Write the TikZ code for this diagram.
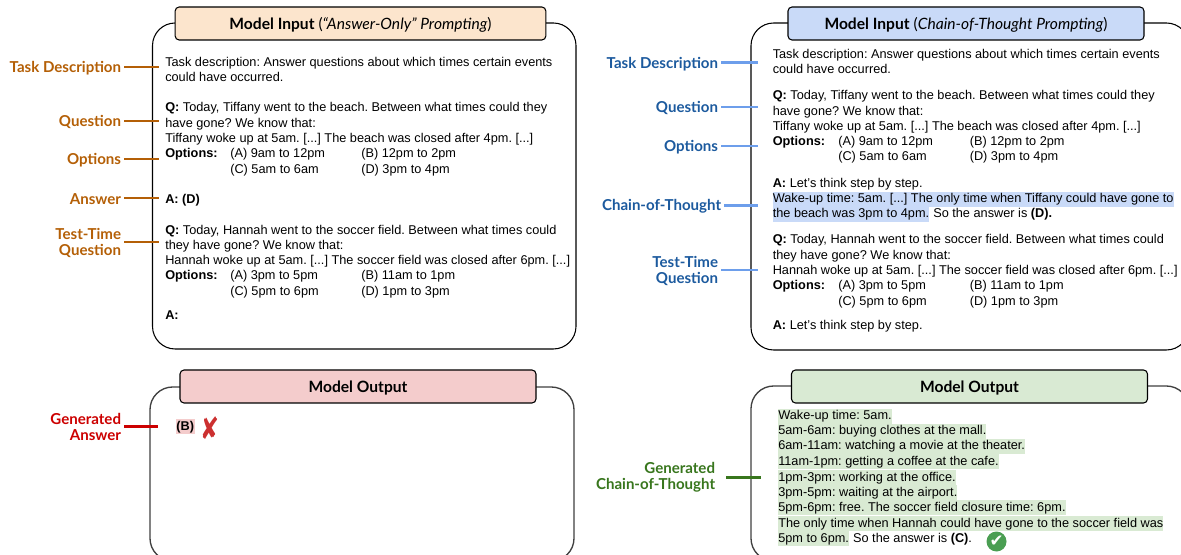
\documentclass[tikz,border=0pt]{standalone}
\usepackage{graphicx}
\usepackage{fontspec}
\setmainfont{Liberation Sans}
\newfontfamily\labelfont{Lato}
\newfontfamily\symbolfont{DejaVu Sans}
\definecolor{PeachFill}{HTML}{FCE5CD}
\definecolor{BlueFill}{HTML}{C9DAF8}
\definecolor{RedFill}{HTML}{F4CCCC}
\definecolor{GreenFill}{HTML}{D9EAD3}
\definecolor{OrangeMain}{HTML}{B45F06}
\definecolor{BlueMain}{HTML}{1C5A9E}
\definecolor{BlueLine}{HTML}{6D9EEB}
\definecolor{RedMain}{HTML}{CC0000}
\definecolor{GreenMain}{HTML}{38761D}
\definecolor{CheckGreen}{HTML}{4A9E52}
\definecolor{CrossRed}{HTML}{CC3030}
\frenchspacing
\begin{document}
\begin{tikzpicture}[x=0.75pt, y=-0.75pt,
        frame/.style={draw=black, line width=0.8pt, fill=white, rounded corners=17pt},
        outframe/.style={draw=black!75, line width=1pt, fill=white, rounded corners=17pt},
        header/.style={draw=black, line width=0.8pt, rounded corners=3pt, minimum height=24.75pt, inner sep=0pt, text height=9pt, text depth=0pt, font=\labelfont\fontsize{11.7}{13}\selectfont},
        txt/.style={anchor=base west, inner sep=0pt, font=\fontsize{9.55}{11}\selectfont},
        hilite/.style={txt, text height=8.6pt, text depth=2.9pt},
        side/.style={anchor=east, align=right, inner sep=2pt, font=\labelfont\bfseries\fontsize{11.3}{12}\selectfont},
        lead/.style={line width=1.9pt}
    ]
        \clip[use as bounding box] (0,0) rectangle (1181,555);

        % Left input panel
        \draw[frame] (152.5,23) rectangle (576,349);
        \node[header, fill=PeachFill, minimum width=278pt] (headA) at (360.5,23.5) {\textbf{Model Input} (\textit{“Answer-Only” Prompting})};
        \node[txt] (a1) at (165,67) {Task description: Answer questions about which times certain events};
        \node[txt] (a2) at (165,82) {could have occurred.};
        \node[txt] (a3) at (165,112) {\textbf{Q:} Today, Tiffany went to the beach. Between what times could they};
        \node[txt] (a4) at (165,127.5) {have gone? We know that:};
        \node[txt] (a5) at (165,143) {Tiffany woke up at 5am. [...] The beach was closed after 4pm. [...]};
        \node[txt] (a6) at (165,158) {\textbf{Options:}};
        \node[txt] (a6a) at (230,158) {(A) 9am to 12pm};
        \node[txt] (a6b) at (361,158) {(B) 12pm to 2pm};
        \node[txt] (a7a) at (230,174) {(C) 5am to 6am};
        \node[txt] (a7b) at (361,174) {(D) 3pm to 4pm};
        \node[txt] (a8) at (165,204) {\textbf{A: (D)}};
        \node[txt] (a9) at (165,235) {\textbf{Q:} Today, Hannah went to the soccer field. Between what times could};
        \node[txt] (a10) at (165,250) {they have gone? We know that:};
        \node[txt] (a11) at (165,265) {Hannah woke up at 5am. [...] The soccer field was closed after 6pm. [...]};
        \node[txt] (a12) at (165,280) {\textbf{Options:}};
        \node[txt] (a12a) at (230,280) {(A) 3pm to 5pm};
        \node[txt] (a12b) at (361,280) {(B) 11am to 1pm};
        \node[txt] (a13a) at (230,296) {(C) 5pm to 6pm};
        \node[txt] (a13b) at (361,296) {(D) 1pm to 3pm};
        \node[txt] (a14) at (165,320) {\textbf{A:}};

        % Left input labels
        \foreach \nm/\y/\lab in {taskA/67/Task Description, questA/121/Question, optA/159/Options, ansA/198/Answer, testA/242/{Test-Time\\Question}} {
            \node[side, text=OrangeMain, yshift=-0.9pt] (\nm) at (124,\y) {\lab};
            \coordinate (\nm E) at (159,\y);
            \draw[lead, OrangeMain] (\nm.east |- \nm E) -- (\nm E);
        }

        % Right input panel
        \draw[frame] (751,23) rectangle (1189,350);
        \node[header, fill=BlueFill, minimum width=267pt] (headB) at (966,23.5) {\textbf{Model Input} (\textit{Chain-of-Thought Prompting})};
        \node[txt] (b1) at (772.5,59) {Task description: Answer questions about which times certain events};
        \node[txt] (b2) at (772.5,74) {could have occurred.};
        \node[txt] (b3) at (772.5,100) {\textbf{Q:} Today, Tiffany went to the beach. Between what times could they};
        \node[txt] (b4) at (772.5,115.5) {have gone? We know that:};
        \node[txt] (b5) at (772.5,131) {Tiffany woke up at 5am. [...] The beach was closed after 4pm. [...]};
        \node[txt] (b6) at (772.5,146) {\textbf{Options:}};
        \node[txt] (b6a) at (838,146) {(A) 9am to 12pm};
        \node[txt] (b6b) at (969.5,146) {(B) 12pm to 2pm};
        \node[txt] (b7a) at (838,161) {(C) 5am to 6am};
        \node[txt] (b7b) at (969.5,161) {(D) 3pm to 4pm};
        \node[txt] (b8) at (772.5,188) {\textbf{A:} Let's think step by step.};
        \node[hilite, fill=BlueFill] (b9) at (772.5,203) {Wake-up time: 5am. [...] The only time when Tiffany could have gone to};
        \node[hilite, fill=BlueFill] (b10) at (772.5,218) {the beach was 3pm to 4pm.};
        \node[txt] (b10x) at (b10.base east) {\ So the answer is \textbf{(D).}};
        \node[txt] (b11) at (772.5,244) {\textbf{Q:} Today, Hannah went to the soccer field. Between what times could};
        \node[txt] (b12) at (772.5,260) {they have gone? We know that:};
        \node[txt] (b13) at (772.5,275) {Hannah woke up at 5am. [...] The soccer field was closed after 6pm. [...]};
        \node[txt] (b14) at (772.5,290) {\textbf{Options:}};
        \node[txt] (b14a) at (838,290) {(A) 3pm to 5pm};
        \node[txt] (b14b) at (969.5,290) {(B) 11am to 1pm};
        \node[txt] (b15a) at (838,306) {(C) 5pm to 6pm};
        \node[txt] (b15b) at (969.5,306) {(D) 1pm to 3pm};
        \node[txt] (b16) at (772.5,330) {\textbf{A:} Let's think step by step.};

        % Right input labels
        \foreach \nm/\y/\lab/\xr in {taskB/62.5/Task Description/721, questB/107/Question/721, optB/146/Options/721, cotB/205.5/Chain-of-Thought/724, testB/270/{Test-Time\\Question}/721} {
            \node[side, text=BlueMain, yshift=-0.9pt] (\nm) at (\xr,\y) {\lab};
            \coordinate (\nm E) at (758,\y);
            \draw[lead, BlueLine] (\nm.east |- \nm E) -- (\nm E);
        }

        % Left output panel
        \draw[outframe] (150,387) rectangle (574,561);
        \node[header, fill=RedFill, minimum width=267pt] (headC) at (358,386.5) {\textbf{Model Output}};
        \node[hilite, fill=RedFill, inner xsep=0.5pt] (c1) at (175.5,430.5) {\textbf{(B)}};
        \node[text=CrossRed, inner sep=0pt, font=\symbolfont\fontsize{17}{17}\selectfont] (cross) at (210,428) {\scalebox{1}[1.35]{✘}};
        \node[side, text=RedMain] (genA) at (124,427) {Generated\\Answer};
        \coordinate (genAE) at (158,426.5);
        \draw[lead, RedMain] (genA.east |- genAE) -- (genAE);

        % Right output panel
        \draw[outframe] (751,386) rectangle (1189,561);
        \node[header, fill=GreenFill, minimum width=267pt] (headD) at (969.5,386.5) {\textbf{Model Output}};
        \node[hilite, fill=GreenFill] (d1) at (778,420) {Wake-up time: 5am.};
        \node[hilite, fill=GreenFill] (d2) at (778,435) {5am-6am: buying clothes at the mall.};
        \node[hilite, fill=GreenFill] (d3) at (778,450) {6am-11am: watching a movie at the theater.};
        \node[hilite, fill=GreenFill] (d4) at (778,465.5) {11am-1pm: getting a coffee at the cafe.};
        \node[hilite, fill=GreenFill] (d5) at (778,481) {1pm-3pm: working at the office.};
        \node[hilite, fill=GreenFill] (d6) at (778,496) {3pm-5pm: waiting at the airport.};
        \node[hilite, fill=GreenFill] (d7) at (778,511.5) {5pm-6pm: free. The soccer field closure time: 6pm.};
        \node[hilite, fill=GreenFill] (d8) at (778,527) {The only time when Hannah could have gone to the soccer field was};
        \node[hilite, fill=GreenFill] (d9) at (778,542) {5pm to 6pm.};
        \node[txt] (d9x) at (d9.base east) {\ So the answer is \textbf{(C)}.};
        \node[circle, fill=CheckGreen, text=white, minimum size=15pt, inner sep=0pt, font=\symbolfont\fontsize{12.5}{12.5}\selectfont] (tick) at (996.5,541.5) {✔};
        \node[side, text=GreenMain] (genB) at (718,477.5) {Generated\\Chain-of-Thought};
        \coordinate (genBS) at (726,477.5);
        \coordinate (genBE) at (761,477.5);
        \draw[lead, GreenMain] (genBS) -- (genBE);
    \end{tikzpicture}
\end{document}
